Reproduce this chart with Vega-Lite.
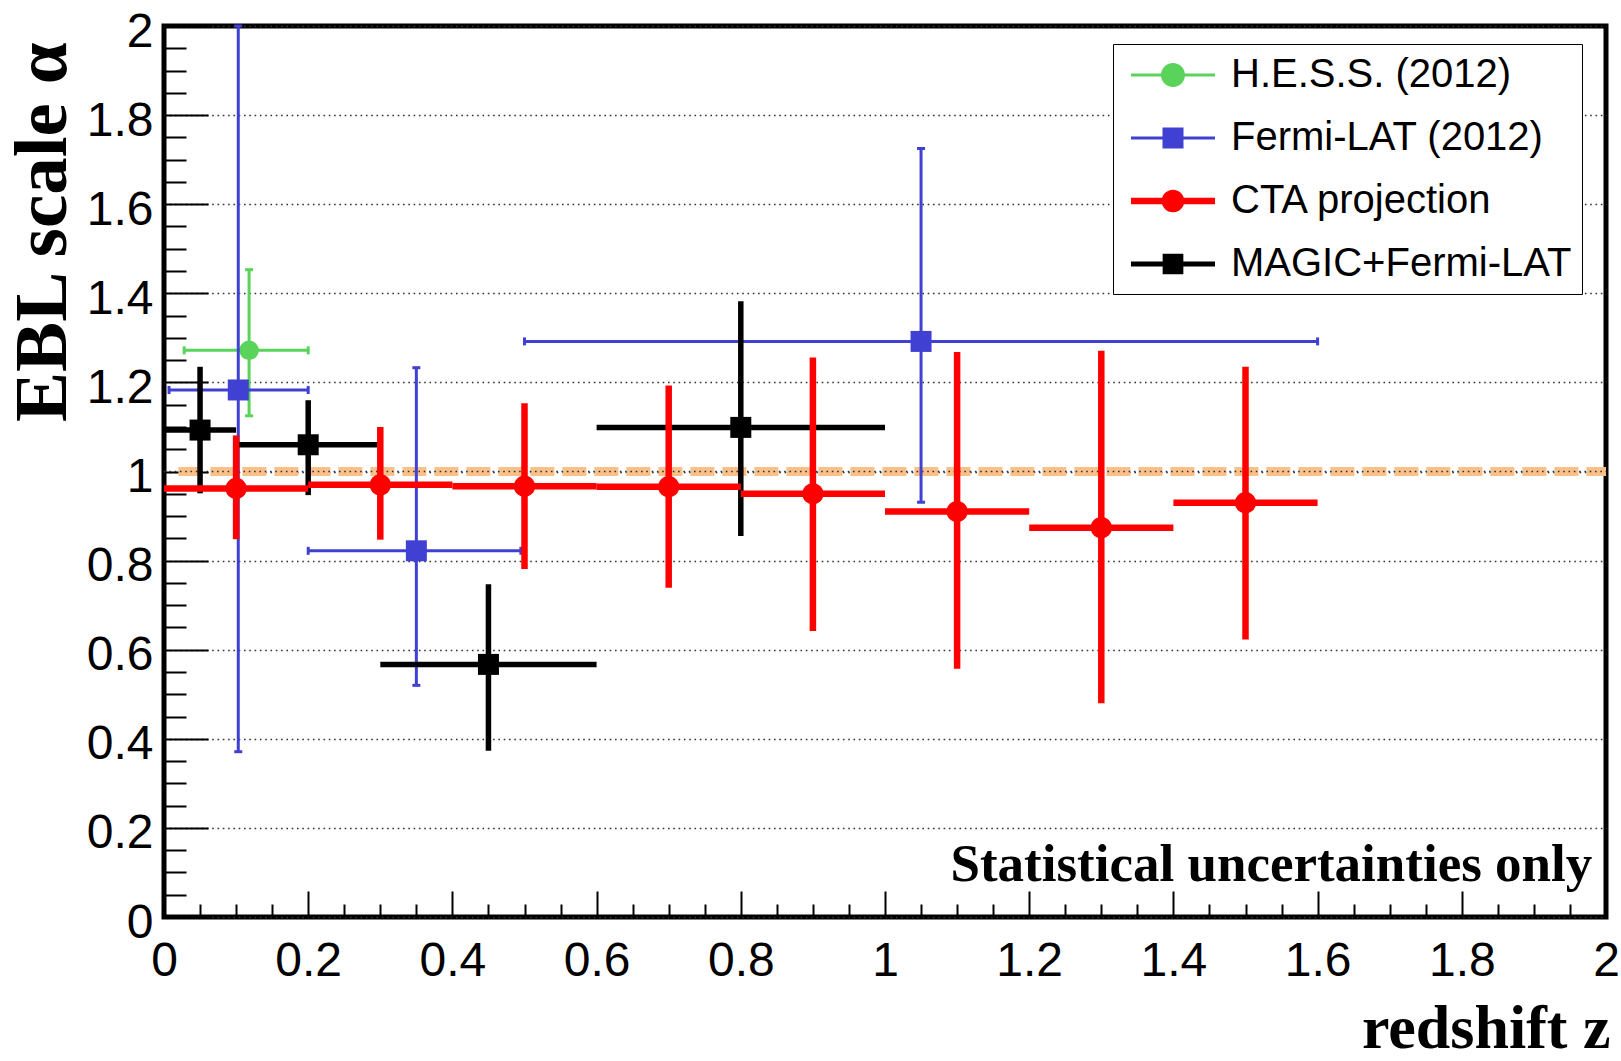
{
  "$schema": "https://vega.github.io/schema/vega-lite/v6.json",
  "width": 1442,
  "height": 891,
  "autosize": {"type": "none"},
  "padding": {"left": 164, "top": 26, "right": 15, "bottom": 144},
  "background": "white",
  "config": {
    "view": {"stroke": "black", "strokeWidth": 5},
    "axis": {
      "domain": false,
      "grid": false,
      "labelFont": "Liberation Sans",
      "labelFontSize": 48,
      "labelColor": "black",
      "tickColor": "black",
      "tickWidth": 2,
      "titleFont": "Liberation Serif",
      "titleFontWeight": "bold",
      "titleColor": "black"
    },
    "legend": {
      "orient": "none",
      "legendX": 949,
      "legendY": 18,
      "title": null,
      "labelFont": "Liberation Sans",
      "labelFontSize": 40,
      "labelColor": "black",
      "labelLimit": 1000,
      "labelOffset": 37,
      "symbolSize": 1764,
      "symbolOffset": 29,
      "symbolStrokeWidth": 0,
      "symbolOpacity": 1,
      "rowPadding": 22,
      "padding": 10,
      "strokeColor": "black",
      "fillColor": "white"
    }
  },
  "data": {
    "values": [
      {"series": "H.E.S.S. (2012)", "x": 0.118, "y": 1.272, "xlo": 0.028, "xhi": 0.2, "ylo": 1.125, "yhi": 1.453},
      {"series": "Fermi-LAT (2012)", "x": 0.103, "y": 1.183, "xlo": 0.007, "xhi": 0.2, "ylo": 0.371, "yhi": 2.0},
      {"series": "Fermi-LAT (2012)", "x": 0.35, "y": 0.822, "xlo": 0.2, "xhi": 0.495, "ylo": 0.52, "yhi": 1.233},
      {"series": "Fermi-LAT (2012)", "x": 1.05, "y": 1.292, "xlo": 0.5, "xhi": 1.6, "ylo": 0.931, "yhi": 1.725},
      {"series": "MAGIC+Fermi-LAT", "x": 0.05, "y": 1.093, "xlo": 0.0, "xhi": 0.1, "ylo": 0.951, "yhi": 1.235},
      {"series": "MAGIC+Fermi-LAT", "x": 0.2, "y": 1.06, "xlo": 0.1, "xhi": 0.296, "ylo": 0.947, "yhi": 1.16},
      {"series": "MAGIC+Fermi-LAT", "x": 0.45, "y": 0.567, "xlo": 0.3, "xhi": 0.6, "ylo": 0.373, "yhi": 0.747},
      {"series": "MAGIC+Fermi-LAT", "x": 0.8, "y": 1.099, "xlo": 0.6, "xhi": 1.0, "ylo": 0.855, "yhi": 1.382},
      {"series": "CTA projection", "x": 0.1, "y": 0.962, "xlo": 0.0, "xhi": 0.2, "ylo": 0.848, "yhi": 1.081},
      {"series": "CTA projection", "x": 0.3, "y": 0.97, "xlo": 0.2, "xhi": 0.4, "ylo": 0.847, "yhi": 1.1},
      {"series": "CTA projection", "x": 0.5, "y": 0.967, "xlo": 0.4, "xhi": 0.6, "ylo": 0.781, "yhi": 1.153},
      {"series": "CTA projection", "x": 0.7, "y": 0.966, "xlo": 0.6, "xhi": 0.8, "ylo": 0.739, "yhi": 1.193},
      {"series": "CTA projection", "x": 0.9, "y": 0.95, "xlo": 0.8, "xhi": 1.0, "ylo": 0.642, "yhi": 1.256},
      {"series": "CTA projection", "x": 1.1, "y": 0.91, "xlo": 1.0, "xhi": 1.2, "ylo": 0.557, "yhi": 1.268},
      {"series": "CTA projection", "x": 1.3, "y": 0.874, "xlo": 1.2, "xhi": 1.4, "ylo": 0.48, "yhi": 1.271},
      {"series": "CTA projection", "x": 1.5, "y": 0.93, "xlo": 1.4, "xhi": 1.6, "ylo": 0.623, "yhi": 1.235}
    ]
  },
  "resolve": {"axis": {"x": "independent", "y": "independent"}},
  "layer": [
    {
      "data": {"values": [{}]},
      "mark": {"type": "rule", "color": "#f9c08a", "strokeWidth": 9, "strokeDash": [24, 8]},
      "encoding": {
        "x": {"datum": 0.02, "type": "quantitative", "scale": {"domain": [0, 2], "nice": false, "zero": false}, "axis": null},
        "x2": {"datum": 2},
        "y": {"datum": 1, "type": "quantitative", "scale": {"domain": [0, 2], "nice": false}, "axis": null}
      }
    },
    {
      "data": {"values": [{}]},
      "mark": {"type": "rule", "color": "#333333", "strokeWidth": 1.6, "strokeDash": [1.6, 3.7]},
      "encoding": {
        "x": {"datum": 0, "type": "quantitative", "axis": null},
        "x2": {"datum": 2},
        "y": {"datum": 1, "type": "quantitative", "axis": null}
      }
    },
    {
      "transform": [{"filter": "datum.series === 'H.E.S.S. (2012)'"}],
      "mark": {"type": "rule", "strokeWidth": 3},
      "encoding": {
        "x": {"field": "xlo", "type": "quantitative", "axis": null},
        "x2": {"field": "xhi"},
        "y": {"field": "y", "type": "quantitative", "axis": null},
        "color": {"field": "series", "type": "nominal", "scale": {"domain": ["H.E.S.S. (2012)", "Fermi-LAT (2012)", "CTA projection", "MAGIC+Fermi-LAT"], "range": ["#59d359", "#4040d2", "#ff0000", "#000000"]}}
      }
    },
    {
      "transform": [{"filter": "datum.series === 'H.E.S.S. (2012)'"}],
      "mark": {"type": "rule", "strokeWidth": 3},
      "encoding": {
        "x": {"field": "x", "type": "quantitative", "axis": null},
        "y": {"field": "ylo", "type": "quantitative", "axis": null},
        "y2": {"field": "yhi"},
        "color": {"field": "series", "type": "nominal"}
      }
    },
    {
      "transform": [{"filter": "datum.series === 'H.E.S.S. (2012)'"}],
      "mark": {"type": "point", "shape": "circle", "filled": true, "opacity": 1, "size": 380},
      "encoding": {
        "x": {"field": "x", "type": "quantitative", "axis": null},
        "y": {"field": "y", "type": "quantitative", "axis": null},
        "color": {"field": "series", "type": "nominal"}
      }
    },
    {
      "transform": [{"filter": "datum.series === 'Fermi-LAT (2012)'"}],
      "mark": {"type": "rule", "strokeWidth": 3},
      "encoding": {
        "x": {"field": "xlo", "type": "quantitative", "axis": null},
        "x2": {"field": "xhi"},
        "y": {"field": "y", "type": "quantitative", "axis": null},
        "color": {"field": "series", "type": "nominal"}
      }
    },
    {
      "transform": [{"filter": "datum.series === 'Fermi-LAT (2012)'"}],
      "mark": {"type": "rule", "strokeWidth": 3},
      "encoding": {
        "x": {"field": "x", "type": "quantitative", "axis": null},
        "y": {"field": "ylo", "type": "quantitative", "axis": null},
        "y2": {"field": "yhi"},
        "color": {"field": "series", "type": "nominal"}
      }
    },
    {
      "transform": [
        {"filter": "datum.series === 'H.E.S.S. (2012)' || datum.series === 'Fermi-LAT (2012)'"},
        {"fold": ["xlo", "xhi"], "as": ["end", "xe"]}
      ],
      "mark": {"type": "point", "shape": "M0,-1L0,1", "filled": false, "opacity": 1, "size": 64, "strokeWidth": 3},
      "encoding": {
        "x": {"field": "xe", "type": "quantitative", "axis": null},
        "y": {"field": "y", "type": "quantitative", "axis": null},
        "color": {"field": "series", "type": "nominal"}
      }
    },
    {
      "transform": [
        {"filter": "datum.series === 'H.E.S.S. (2012)' || datum.series === 'Fermi-LAT (2012)'"},
        {"fold": ["ylo", "yhi"], "as": ["end", "ye"]}
      ],
      "mark": {"type": "point", "shape": "M-1,0L1,0", "filled": false, "opacity": 1, "size": 64, "strokeWidth": 3},
      "encoding": {
        "x": {"field": "x", "type": "quantitative", "axis": null},
        "y": {"field": "ye", "type": "quantitative", "axis": null},
        "color": {"field": "series", "type": "nominal"}
      }
    },
    {
      "transform": [{"filter": "datum.series === 'Fermi-LAT (2012)'"}],
      "mark": {"type": "point", "shape": "square", "filled": true, "opacity": 1, "size": 441},
      "encoding": {
        "x": {"field": "x", "type": "quantitative", "axis": null},
        "y": {"field": "y", "type": "quantitative", "axis": null},
        "color": {"field": "series", "type": "nominal"}
      }
    },
    {
      "transform": [{"filter": "datum.series === 'MAGIC+Fermi-LAT'"}],
      "mark": {"type": "rule", "strokeWidth": 5.5},
      "encoding": {
        "x": {"field": "xlo", "type": "quantitative", "axis": null},
        "x2": {"field": "xhi"},
        "y": {"field": "y", "type": "quantitative", "axis": null},
        "color": {"field": "series", "type": "nominal"}
      }
    },
    {
      "transform": [{"filter": "datum.series === 'MAGIC+Fermi-LAT'"}],
      "mark": {"type": "rule", "strokeWidth": 5.5},
      "encoding": {
        "x": {"field": "x", "type": "quantitative", "axis": null},
        "y": {"field": "ylo", "type": "quantitative", "axis": null},
        "y2": {"field": "yhi"},
        "color": {"field": "series", "type": "nominal"}
      }
    },
    {
      "transform": [{"filter": "datum.series === 'MAGIC+Fermi-LAT'"}],
      "mark": {"type": "point", "shape": "square", "filled": true, "opacity": 1, "size": 441},
      "encoding": {
        "x": {"field": "x", "type": "quantitative", "axis": null},
        "y": {"field": "y", "type": "quantitative", "axis": null},
        "color": {"field": "series", "type": "nominal"}
      }
    },
    {
      "transform": [{"filter": "datum.series === 'CTA projection'"}],
      "mark": {"type": "rule", "strokeWidth": 6.5},
      "encoding": {
        "x": {
          "field": "xlo", "type": "quantitative",
          "scale": {"domain": [0, 2], "nice": false, "zero": false},
          "axis": {
            "orient": "bottom",
            "values": [0, 0.2, 0.4, 0.6, 0.8, 1, 1.2, 1.4, 1.6, 1.8, 2],
            "format": "~g",
            "tickSize": -26,
            "labelPadding": 46,
            "labelOverlap": false,
            "labelFlush": false,
            "labelBound": false,
            "grid": false,
            "title": "redshift z",
            "titleFontSize": 62,
            "titleX": 1446,
            "titleY": 130,
            "titleAlign": "right",
            "titleBaseline": "alphabetic"
          }
        },
        "x2": {"field": "xhi"},
        "y": {
          "field": "y", "type": "quantitative",
          "scale": {"domain": [0, 2], "nice": false},
          "axis": {
            "orient": "left",
            "values": [0, 0.2, 0.4, 0.6, 0.8, 1, 1.2, 1.4, 1.6, 1.8, 2],
            "format": "~g",
            "tickSize": -44,
            "labelPadding": 55,
            "labelOffset": 6,
            "labelOverlap": false,
            "labelFlush": false,
            "labelBound": false,
            "grid": true,
            "gridColor": "#333333",
            "gridWidth": 1.6,
            "gridDash": [1.6, 3.7],
            "title": "EBL scale α",
            "titleFontSize": 75,
            "titleAngle": -90,
            "titleX": -99,
            "titleY": 16,
            "titleAlign": "right",
            "titleBaseline": "alphabetic"
          }
        },
        "color": {"field": "series", "type": "nominal"}
      }
    },
    {
      "transform": [{"filter": "datum.series === 'CTA projection'"}],
      "mark": {"type": "rule", "strokeWidth": 6.5},
      "encoding": {
        "x": {
          "field": "x", "type": "quantitative",
          "axis": {
            "orient": "bottom",
            "values": [0.05, 0.1, 0.15, 0.25, 0.3, 0.35, 0.45, 0.5, 0.55, 0.65, 0.7, 0.75, 0.85, 0.9, 0.95, 1.05, 1.1, 1.15, 1.25, 1.3, 1.35, 1.45, 1.5, 1.55, 1.65, 1.7, 1.75, 1.85, 1.9, 1.95],
            "tickSize": -13,
            "labels": false,
            "grid": false,
            "title": null
          }
        },
        "y": {
          "field": "ylo", "type": "quantitative",
          "axis": {
            "orient": "left",
            "values": [0.05, 0.1, 0.15, 0.25, 0.3, 0.35, 0.45, 0.5, 0.55, 0.65, 0.7, 0.75, 0.85, 0.9, 0.95, 1.05, 1.1, 1.15, 1.25, 1.3, 1.35, 1.45, 1.5, 1.55, 1.65, 1.7, 1.75, 1.85, 1.9, 1.95],
            "tickSize": -22,
            "labels": false,
            "grid": false,
            "title": null
          }
        },
        "y2": {"field": "yhi"},
        "color": {"field": "series", "type": "nominal"}
      }
    },
    {
      "transform": [{"filter": "datum.series === 'CTA projection'"}],
      "mark": {"type": "point", "shape": "circle", "filled": true, "opacity": 1, "size": 452},
      "encoding": {
        "x": {"field": "x", "type": "quantitative", "axis": null},
        "y": {"field": "y", "type": "quantitative", "axis": null},
        "color": {"field": "series", "type": "nominal"}
      }
    },
    {
      "data": {"values": [{"note": "Statistical uncertainties only"}]},
      "mark": {"type": "text", "font": "Liberation Serif", "fontWeight": "bold", "fontSize": 53, "align": "right", "baseline": "alphabetic", "color": "black"},
      "encoding": {
        "x": {"datum": 1.981, "type": "quantitative", "axis": null},
        "y": {"datum": 0.081, "type": "quantitative", "axis": null},
        "text": {"field": "note"}
      }
    },
    {
      "transform": [{"filter": "datum.x < 0"}],
      "mark": {"type": "point", "filled": true, "opacity": 1},
      "encoding": {
        "x": {"field": "x", "type": "quantitative", "axis": null},
        "y": {"field": "y", "type": "quantitative", "axis": null},
        "color": {"field": "series", "type": "nominal"},
        "shape": {
          "field": "series", "type": "nominal",
          "scale": {
            "domain": ["H.E.S.S. (2012)", "Fermi-LAT (2012)", "CTA projection", "MAGIC+Fermi-LAT"],
            "range": [
              "M-2,-0.071H2V0.071H-2Z M-0.571,0A0.571,0.571 0 1 1 0.571,0A0.571,0.571 0 1 1 -0.571,0Z",
              "M-2,-0.071H2V0.071H-2Z M-0.5,-0.5H0.5V0.5H-0.5Z",
              "M-2,-0.157H2V0.157H-2Z M-0.54,0A0.54,0.54 0 1 1 0.54,0A0.54,0.54 0 1 1 -0.54,0Z",
              "M-2,-0.119H2V0.119H-2Z M-0.493,-0.493H0.493V0.493H-0.493Z"
            ]
          },
          "legend": {
            "encode": {
              "symbols": {
                "update": {
                  "fill": {"scale": "color", "field": "value"},
                  "stroke": {"value": "transparent"},
                  "strokeWidth": {"value": 0},
                  "opacity": {"value": 1}
                }
              }
            }
          }
        }
      }
    }
  ]
}
